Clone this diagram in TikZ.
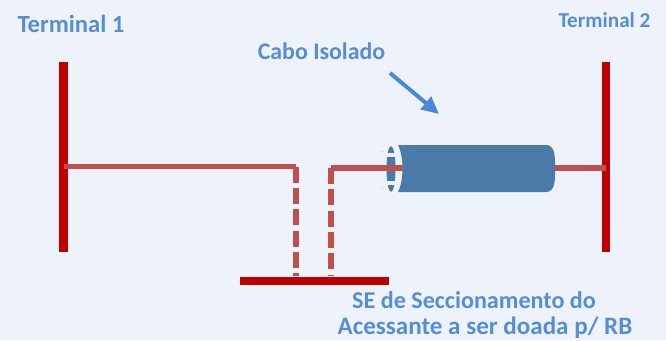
\documentclass[tikz,border=0pt]{standalone}
\usepackage{fontspec}
\setmainfont{Carlito}
\usetikzlibrary{arrows.meta, calc, positioning}
\definecolor{panelblue}{RGB}{238,243,251}
\definecolor{barred}{RGB}{192,0,0}
\definecolor{linered}{RGB}{192,80,77}
\definecolor{cableblue}{RGB}{74,122,168}
\definecolor{labelblue}{RGB}{85,142,213}
\definecolor{arrowblue}{RGB}{74,138,212}
\tikzset{
    barra/.style={draw=none, fill=barred, inner sep=0pt},
    rotulo/.style={text=labelblue, font=\fontsize{#1}{#1}\selectfont\bfseries, inner sep=0pt},
    linha/.style={linered, line width=4pt},
    tracejada/.style={linered, line width=4pt, dash pattern=on 12pt off 4pt}
}
\begin{document}
\begin{tikzpicture}[x=0.75pt, y=-0.75pt]
    \useasboundingbox (0,0) rectangle (666,340);
    \fill[panelblue] (0,0) rectangle (666,340);

    % barras
    \node[barra, minimum width=6.75pt, minimum height=142.5pt] (t1) at (63.5,157) {};
    \node[barra, minimum width=6pt, minimum height=142.5pt] (t2) at (606,157) {};
    \node[barra, minimum width=112pt, minimum height=6pt] (se) at (314.5,280.5) {};

    \coordinate (c1) at (296,166.5);
    \coordinate (c2) at (331,168);
    \coordinate (a1) at (t1.center |- c1);
    \coordinate (a2) at (t2.center |- c2);
    \coordinate (s1) at (c1 |- se.north);
    \coordinate (s2) at (c2 |- se.north);

    % cabo: extremidade aberta
    \fill[cableblue] (391,169) ellipse (4.5 and 23);
    \fill[panelblue] (385,153) rectangle (398,157);
    \fill[panelblue] (385,181) rectangle (398,185);
    \fill[cableblue!50] (382,150.5) rectangle (383,151.5);
    \fill[cableblue!50] (382,186.5) rectangle (383,187.5);

    \draw[linha] (a1) -- (c1);
    \draw[linha] (a2) -- (c2);
    \draw[tracejada] (c1) -- (s1);
    \draw[tracejada] (c2) -- (s2);

    \fill[cableblue] (398,145) -- (546,145) to[out=0, in=90] (555,168.5) to[out=-90, in=0] (546,192) -- (398,192)
        .. controls (404,180) and (404,157) .. (398,145) -- cycle;

    \node[rotulo=18.5] (term1) at (71,24) {Terminal 1};
    \node[rotulo=15.9] (term2) at (604.5,20) {Terminal 2};
    \node[rotulo=17.9] (cabo) at (321.5,51) {Cabo Isolado};
    \node[rotulo=18.1] (se1) at (474,300) {SE de Seccionamento do};
    \node[rotulo=18.8] (se2) at (485,327.5) {Acessante a ser doada p/ RB};

    \coordinate (k1) at (390,73);
    \coordinate (k2) at (439,114);
    \draw[-{Triangle[length=13pt, width=12pt]}, arrowblue, line width=3pt] (k1) -- (k2);
\end{tikzpicture}
\end{document}
